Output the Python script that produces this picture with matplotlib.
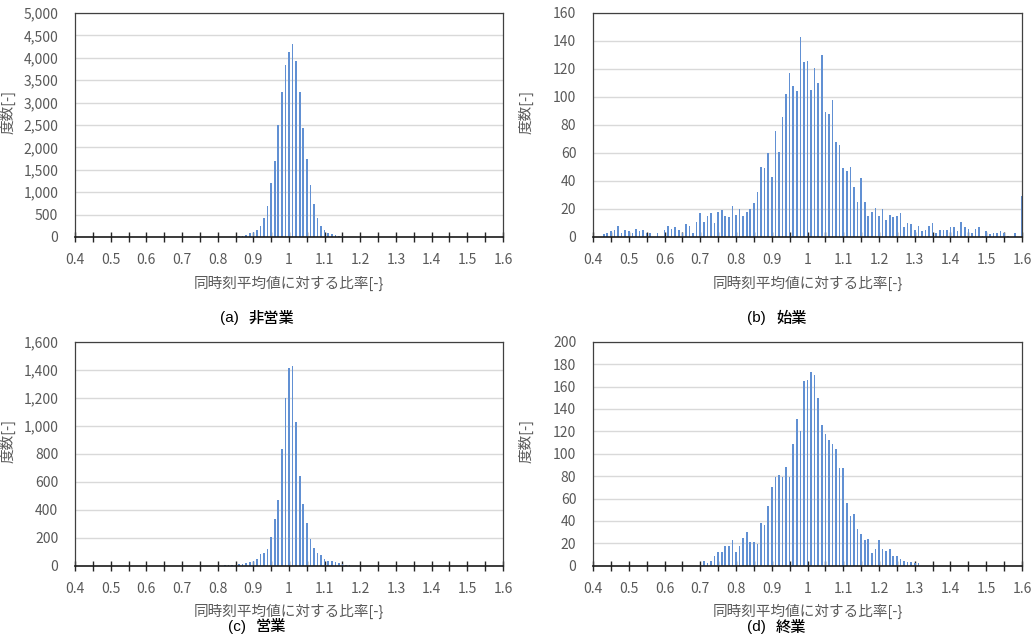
import numpy as np
import matplotlib
matplotlib.use('Agg')
import matplotlib.pyplot as plt
from matplotlib.ticker import FuncFormatter

plt.rcParams['font.family'] = ['Noto Sans CJK JP', 'DejaVu Sans']

# ---------------- data ----------------
bin_start = 0.40
bin_step = 0.01
n_bins = 121          # 0.40 ... 1.60

x_tick_labels = ['0.4', '0.5', '0.6', '0.7', '0.8', '0.9', '1',
                 '1.1', '1.2', '1.3', '1.4', '1.5', '1.6']

# (a) 非営業 : counts starting at ratio 0.84
a_first = 0.84
a_counts = [5, 10, 15, 30, 50, 100, 110, 150, 245, 430, 700, 1200, 1700, 2500,
            3230, 3840, 4120, 4300, 3920, 3240, 2430, 1740, 1160, 740, 430,
            245, 160, 95, 75, 55, 30, 15, 5]

# (b) 始業 : counts starting at ratio 0.43
b_first = 0.43
b_counts = [2, 3, 4, 5, 8, 3, 5, 4, 3, 6, 4, 5, 3, 3, 0, 3, 0, 5, 8, 6,
            7, 5, 3, 9, 8, 3, 11, 17, 11, 15, 17, 10, 18, 19, 15, 14, 22, 16, 20, 15,
            18, 20, 24, 32, 50, 49, 60, 43, 76, 61, 86, 102, 117, 108, 104, 143, 125, 126, 105, 121,
            110, 130, 89, 88, 98, 68, 66, 49, 47, 50, 36, 25, 42, 25, 15, 18, 21, 15, 20, 12,
            16, 14, 15, 17, 7, 10, 9, 5, 8, 4, 5, 8, 10, 3, 5, 5, 5, 7, 7, 4,
            11, 7, 6, 3, 6, 7, 1, 4, 2, 3, 3, 4, 3, 1, 0, 3, 0, 29]

# (c) 営業 : counts starting at ratio 0.82
c_first = 0.82
c_counts = [2, 3, 5, 6, 9, 12, 17, 24, 33, 50, 81, 88, 121, 207, 336, 469, 833,
            1195, 1410, 1426, 1026, 638, 443, 305, 190, 124, 93, 76, 50, 36,
            31, 24, 17, 10, 7, 3]

# (d) 終業 : counts starting at ratio 0.71
d_first = 0.71
d_counts = [4, 2, 4, 9, 12, 12, 18, 18, 23, 12, 18, 25, 30, 21, 21, 19, 38, 36,
            53, 70, 79, 81, 79, 88, 79, 109, 131, 120, 165, 166, 173, 170, 150,
            126, 118, 112, 109, 104, 87, 87, 56, 44, 46, 33, 28, 23, 24, 11, 15,
            23, 15, 13, 15, 9, 9, 6, 4, 3, 3, 2, 2]

panel_marks = ['(a)', '(b)', '(c)', '(d)']
panel_names = ['非営業', '始業', '営業', '終業']
y_max = [5000, 160, 1600, 200]
y_step = [500, 20, 200, 20]
x_label = '同時刻平均値に対する比率[-}'
y_label = '度数[-]'

# ---------------- helpers ----------------
ratios = np.round(bin_start + bin_step * np.arange(n_bins), 2)


def full_counts(first, counts):
    arr = np.zeros(n_bins)
    i0 = int(round((first - bin_start) / bin_step))
    arr[i0:i0 + len(counts)] = counts
    return arr


series = [full_counts(a_first, a_counts), full_counts(b_first, b_counts),
          full_counts(c_first, c_counts), full_counts(d_first, d_counts)]

W, H = 1032, 638
fig = plt.figure(figsize=(W / 100, H / 100), dpi=100)

# pixel boxes: left, right, top, bottom
boxes = [(75, 503, 13, 237), (593, 1022, 13, 237),
         (75, 503, 341.7, 565.7), (593, 1022, 341.7, 565.7)]
chart_centers = [257, 777, 257, 777]
grey = '#595959'
bar_color = '#6190D3'

for k in range(4):
    l, r, t, b = boxes[k]
    ax = fig.add_axes([l / W, 1 - b / H, (r - l) / W, (b - t) / H])
    ax.bar(ratios, series[k], width=0.0045, color=bar_color, linewidth=0, zorder=2)
    ax.set_xlim(0.4, 1.6)
    ax.set_ylim(0, y_max[k])
    ax.set_yticks(np.arange(0, y_max[k] + 1, y_step[k]))
    ax.yaxis.set_major_formatter(FuncFormatter(lambda v, p: f'{int(v):,}'))
    ax.grid(axis='y', color='#D9D9D9', linewidth=1.0, zorder=0)
    ax.set_axisbelow(True)
    # x ticks: every 0.05, labels every 0.1
    major = np.round(np.arange(0.4, 1.6001, 0.05), 2)
    ax.set_xticks(major)
    labs = []
    j = 0
    for m in major:
        if abs(round(m * 10) - m * 10) < 1e-6:
            labs.append(x_tick_labels[j])
            j += 1
        else:
            labs.append('')
    ax.set_xticklabels(labs)
    ax.tick_params(axis='x', direction='inout', length=7, width=1.0, color='#262626',
                   labelsize=10, labelcolor=grey, pad=8)
    ax.tick_params(axis='y', length=0, labelsize=10, labelcolor=grey, pad=12)
    for s in ['top', 'left', 'right']:
        ax.spines[s].set_color('#404040')
        ax.spines[s].set_linewidth(0.9)
    ax.spines['bottom'].set_color('#1a1a1a')
    ax.spines['bottom'].set_linewidth(1.2)

    # axis titles
    fig.text((l + r) / 2 / W, 1 - (b + 46) / H, x_label, ha='center', va='center',
             fontsize=10.5, color=grey)
    fig.text((l - 67) / W, 1 - (t + 99) / H, y_label, ha='center', va='center',
             rotation=90, fontsize=10.5, color=grey)
    # caption: "(x)" then two spaces then name
    cap_y = b + 81 if k < 2 else 627
    name_w = 15 * len(panel_names[k])
    total = 18 + 10 + name_w
    x0 = chart_centers[k] - total / 2
    fig.text((x0 + 18) / W, 1 - cap_y / H, panel_marks[k], ha='right', va='center',
             fontsize=11, color='black', family=['Liberation Sans', 'DejaVu Sans'])
    fig.text((x0 + 28) / W, 1 - cap_y / H, panel_names[k], ha='left', va='center',
             fontsize=11, color='black', fontweight='medium',
             family=['Noto Sans CJK JP', 'DejaVu Sans'])

fig.savefig('out.png', dpi=100)
